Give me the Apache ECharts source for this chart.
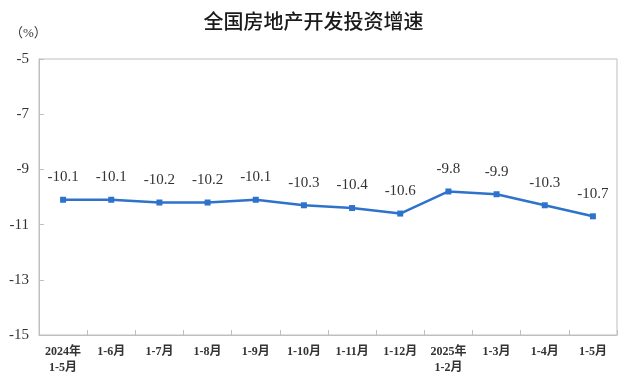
<!DOCTYPE html>
<html><head><meta charset="utf-8">
<script src="https://cdn.jsdelivr.net/npm/echarts@6/dist/echarts.min.js"></script>
<style>html,body{margin:0;padding:0;background:#fff}#c{width:627px;height:380px}</style>
</head><body><div id="c"></div>
<script>
const title = '全国房地产开发投资增速';
const unit = '（%）';
const categories = ['2024年\n1-5月','1-6月','1-7月','1-8月','1-9月','1-10月','1-11月','1-12月','2025年\n1-2月','1-3月','1-4月','1-5月'];
const values = [-10.1,-10.1,-10.2,-10.2,-10.1,-10.3,-10.4,-10.6,-9.8,-9.9,-10.3,-10.7];
const yMin = -15, yMax = -5, yStep = 2;

const serif = '"Liberation Serif","Noto Sans CJK SC",serif';
const chart = echarts.init(document.getElementById('c'));
chart.setOption({
  animation: false,
  title: { text: title, left: 'center', top: 6, textStyle: { fontFamily: '"Noto Sans CJK SC",sans-serif', fontSize: 20, fontWeight: 500, color: '#1a1a1a' } },
  graphic: [{ type: 'text', left: 10, top: 27, style: { text: unit, font: '13px "Liberation Serif","Noto Sans CJK SC",serif', fill: '#333' } }],
  grid: { left: 39, right: 10, top: 59, bottom: 45, show: true, borderColor: '#bfbfbf', borderWidth: 1 },
  xAxis: {
    type: 'category', data: categories, boundaryGap: true,
    axisLine: { lineStyle: { color: '#bfbfbf' } },
    axisTick: { show: true, inside: true, length: 5, lineStyle: { color: '#bfbfbf' } },
    axisLabel: { fontFamily: serif, fontSize: 12, fontWeight: 'bold', color: '#333', margin: 9, lineHeight: 16, interval: 0 },
    splitLine: { show: false }
  },
  yAxis: {
    type: 'value', min: yMin, max: yMax, interval: yStep,
    axisLine: { show: true, lineStyle: { color: '#bfbfbf' } },
    axisTick: { show: true, inside: true, length: 5, lineStyle: { color: '#bfbfbf' } },
    axisLabel: { fontFamily: serif, fontSize: 15, color: '#333', margin: 10 },
    splitLine: { show: false }
  },
  series: [{
    type: 'line', data: values, symbol: 'rect', symbolSize: 6,
    lineStyle: { color: '#2e72cc', width: 2.5 },
    itemStyle: { color: '#2e72cc' },
    label: { show: true, position: 'top', distance: 12, fontFamily: serif, fontSize: 15, color: '#333', formatter: p => p.value.toFixed(1) }
  }]
});
</script></body></html>
